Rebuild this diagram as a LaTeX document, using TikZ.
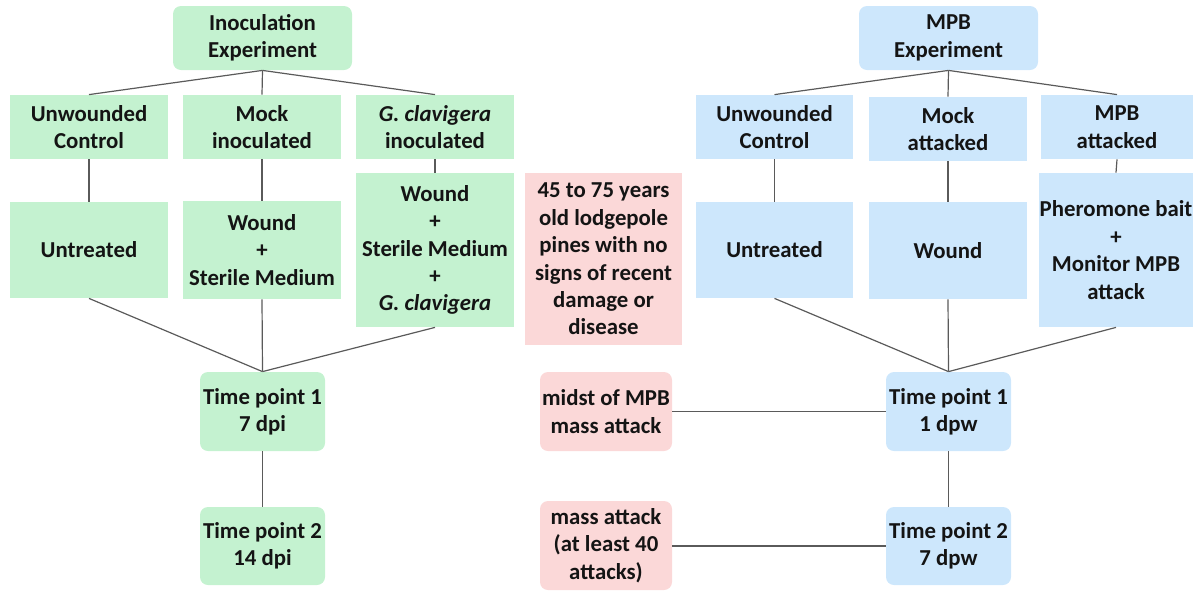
\documentclass[tikz,border=0pt]{standalone}
\usepackage{fontspec}
\setmainfont{Carlito}
\definecolor{gfill}{RGB}{196,242,208}
\definecolor{bfill}{RGB}{205,231,252}
\definecolor{pfill}{RGB}{251,216,216}
\definecolor{linec}{RGB}{90,90,90}
\begin{document}
\begin{tikzpicture}[x=0.5pt,y=-0.5pt,
  box/.style={draw=none,inner sep=0pt,align=center,text=black!92,
    font=\bfseries\fontsize{11.4}{13.7}\selectfont},
  sz/.style 2 args={minimum width=#1*0.5pt,minimum height=#2*0.5pt},
  gbox/.style={box,fill=gfill},
  bbox/.style={box,fill=bfill},
  pbox/.style={box,fill=pfill},
  rnd/.style={rounded corners=4pt},
  link/.style={draw=linec,line width=0.6pt}]
\useasboundingbox (0,0) rectangle (1193,590);
% green
\node[gbox,rnd,sz={179}{64}] (inoc) at (262.5,38) {Inoculation\\Experiment};
\node[gbox,sz={158}{64}] (guc) at (89,127) {Unwounded\\Control};
\node[gbox,sz={158}{64}] (gmock) at (262,127) {Mock\\inoculated};
\node[gbox,sz={158}{64}] (gcla) at (435,127) {\textit{G. clavigera}\\inoculated};
\node[gbox,sz={158}{96}] (gunt) at (89,250) {Untreated};
\node[gbox,sz={158}{98}] (gwsm) at (262,250) {Wound\\+\\Sterile Medium};
\node[gbox,sz={158}{154}] (gwsmg) at (435,250) {Wound\\+\\Sterile Medium\\+\\\textit{G. clavigera}};
\node[gbox,rnd,sz={125}{79}] (gtp1) at (262.5,411.5) {Time point 1\\7 dpi};
\node[gbox,rnd,sz={125}{78}] (gtp2) at (262.5,546) {Time point 2\\14 dpi};
% pink
\node[pbox,sz={157}{172}] (pine) at (603.5,259) {45 to 75 years\\old lodgepole\\pines with no\\signs of recent\\damage or\\disease};
\node[pbox,rnd,sz={132}{79}] (midst) at (606,411.5) {midst of MPB\\mass attack};
\node[pbox,rnd,sz={132}{89}] (mass) at (606,545.5) {mass attack\\(at least 40\\attacks)};
% blue
\node[bbox,rnd,sz={179}{64}] (mpb) at (948.5,38) {MPB\\Experiment};
\node[bbox,sz={157}{64}] (buc) at (774.5,127) {Unwounded\\Control};
\node[bbox,sz={158}{64}] (bmock) at (948,129) {Mock\\attacked};
\node[bbox,sz={152}{64}] (bmpb) at (1117,127) {MPB\\attacked};
\node[bbox,sz={157}{96}] (bunt) at (774.5,250) {Untreated};
\node[bbox,sz={158}{97}] (bwound) at (948,250.5) {Wound};
\node[bbox,sz={154}{154}] (bpher) at (1116,250) {Pheromone bait\\+\\Monitor MPB\\attack};
\node[bbox,rnd,sz={125}{79}] (btp1) at (948.5,411.5) {Time point 1\\1 dpw};
\node[bbox,rnd,sz={125}{78}] (btp2) at (948.5,546) {Time point 2\\7 dpw};
% connectors left
\draw[link] (inoc.south) -- (guc.north);
\draw[link] (inoc.south) -- (gmock.north);
\draw[link] (inoc.south) -- (gcla.north);
\draw[link] (guc.south) -- (gunt.north);
\draw[link] (gmock.south) -- (gwsm.north);
\draw[link] (gcla.south) -- (gwsmg.north);
\draw[link] (gunt.south) -- (gtp1.north);
\draw[link] (gwsm.south) -- (gtp1.north);
\draw[link] (gwsmg.south) -- (gtp1.north);
\draw[link] (gtp1.south) -- (gtp2.north);
% connectors right
\draw[link] (mpb.south) -- (buc.north);
\draw[link] (mpb.south) -- (bmock.north);
\draw[link] (mpb.south) -- (bmpb.north);
\draw[link] (buc.south) -- (bunt.north);
\draw[link] (bmock.south) -- (bwound.north);
\draw[link] (bmpb.south) -- (bpher.north);
\draw[link] (bunt.south) -- (btp1.north);
\draw[link] (bwound.south) -- (btp1.north);
\draw[link] (bpher.south) -- (btp1.north);
\draw[link] (btp1.south) -- (btp2.north);
\draw[link] (midst.east) -- (btp1.west);
\draw[link] (mass.east |- btp2.west) -- (btp2.west);
\end{tikzpicture}
\end{document}
